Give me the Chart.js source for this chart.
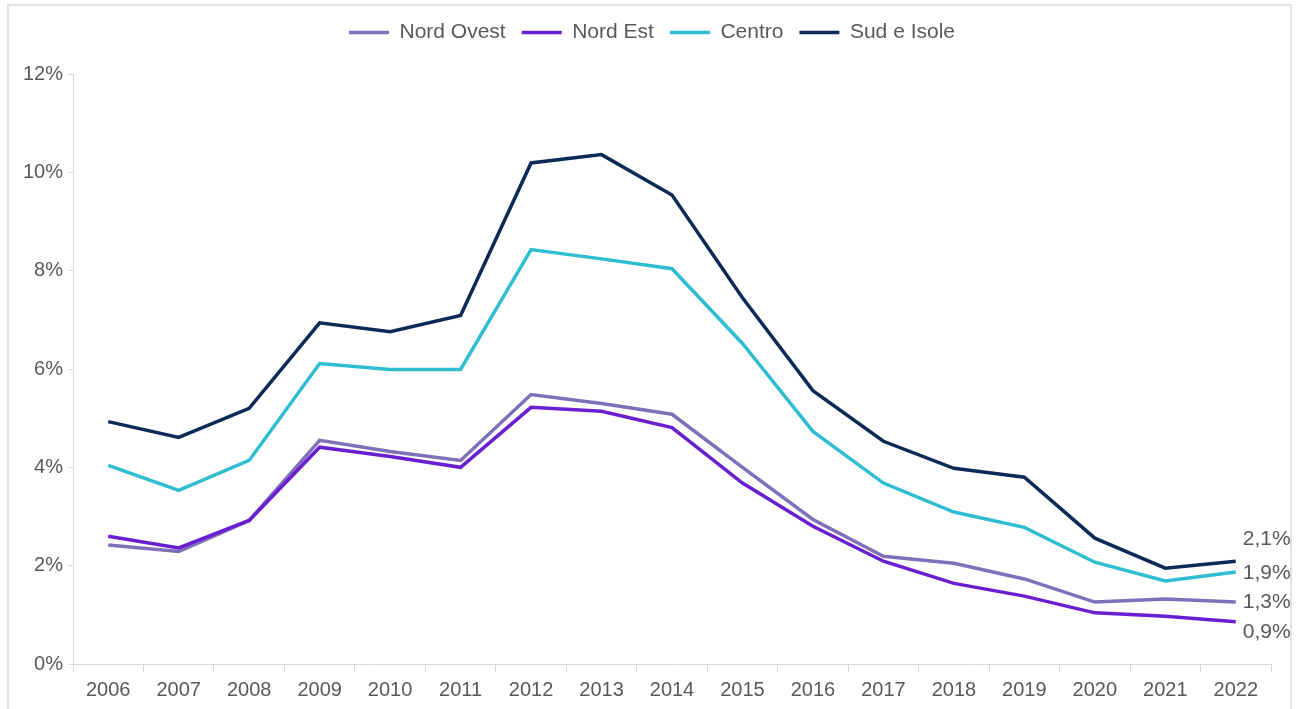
<!DOCTYPE html>
<html>
<head>
<meta charset="utf-8">
<script src="https://cdn.jsdelivr.net/npm/chart.js@4"></script>
<style>
  html, body { margin: 0; padding: 0; background: #fff; }
  #wrap { position: relative; width: 1304px; height: 709px; }
</style>
</head>
<body>
<div id="wrap"><canvas id="chart" width="1304" height="709"></canvas></div>
<script>
const years = ["2006", "2007", "2008", "2009", "2010", "2011", "2012", "2013", "2014",
  "2015", "2016", "2017", "2018", "2019", "2020", "2021", "2022"];

const nordOvest = [2.42, 2.29, 2.92, 4.55, 4.32, 4.14, 5.48, 5.30, 5.08, 4.00, 2.94, 2.19, 2.05, 1.73, 1.26, 1.32, 1.26];
const nordEst   = [2.60, 2.36, 2.92, 4.41, 4.22, 4.00, 5.22, 5.14, 4.81, 3.68, 2.80, 2.09, 1.64, 1.38, 1.04, 0.97, 0.86];
const centro    = [4.04, 3.53, 4.14, 6.11, 5.99, 5.99, 8.43, 8.24, 8.04, 6.52, 4.73, 3.68, 3.09, 2.78, 2.07, 1.69, 1.87];
const sudIsole  = [4.93, 4.61, 5.20, 6.94, 6.76, 7.09, 10.19, 10.36, 9.54, 7.45, 5.56, 4.53, 3.98, 3.80, 2.56, 1.95, 2.09];

const yTicks = [0, 2, 4, 6, 8, 10, 12];

const textColor = "#595959";
const axisColor = "#d9d9d9";
const family = "'Liberation Sans', Arial, sans-serif";
const tickFont = { family: family, size: 20 };
const legendFont = { family: family, size: 21 };

// nudge for the end-of-line labels so they don't collide
const endLabelShift = [0, 10, 1, -22];

function pct(v) {
  return v.toFixed(1).replace(".", ",") + "%";
}

const endLabels = {
  id: "endLabels",
  afterDatasetsDraw(chart) {
    const ctx = chart.ctx;
    ctx.save();
    ctx.font = legendFont.size + "px " + family;
    ctx.fillStyle = textColor;
    ctx.textAlign = "left";
    ctx.textBaseline = "middle";
    chart.data.datasets.forEach((ds, i) => {
      const meta = chart.getDatasetMeta(i);
      const last = meta.data[meta.data.length - 1];
      ctx.fillText(pct(ds.data[ds.data.length - 1]), last.x + 7, last.y + endLabelShift[i]);
    });
    ctx.restore();
  }
};

const frame = {
  id: "frame",
  beforeDraw(chart) {
    const ctx = chart.ctx;
    ctx.save();
    ctx.strokeStyle = "#e2e2e2";
    ctx.lineWidth = 2;
    ctx.strokeRect(8, 5, 1283, 720);
    ctx.restore();
  }
};

function line(label, data, color, order) {
  return {
    label: label,
    data: data,
    borderColor: color,
    backgroundColor: color,
    borderWidth: 3.5,
    pointRadius: 0,
    pointHoverRadius: 0,
    tension: 0,
    order: order
  };
}

// invisible axis used only to reserve space
function spacer(position, size) {
  return {
    type: position === "top" ? "category" : "linear",
    position: position,
    display: true,
    grid: { display: false, drawTicks: false },
    border: { display: false },
    ticks: { display: false },
    afterFit(s) {
      if (position === "top") s.height = size; else s.width = size;
    }
  };
}

new Chart(document.getElementById("chart"), {
  type: "line",
  data: {
    labels: years,
    datasets: [
      line("Nord Ovest", nordOvest, "#8070b9", 4),
      line("Nord Est", nordEst, "#6a1ed2", 3),
      line("Centro", centro, "#2ebdd1", 2),
      line("Sud e Isole", sudIsole, "#0b2b56", 1)
    ]
  },
  options: {
    responsive: false,
    animation: false,
    layout: { padding: { top: 6, left: 0, right: 0, bottom: 0 } },
    plugins: {
      legend: {
        position: "top",
        labels: {
          usePointStyle: true,
          pointStyle: "line",
          pointStyleWidth: 40,
          padding: 16,
          color: textColor,
          font: legendFont,
          sort: (a, b) => a.datasetIndex - b.datasetIndex
        }
      },
      tooltip: { enabled: false }
    },
    scales: {
      x: {
        offset: true,
        grid: {
          offset: true,
          drawOnChartArea: false,
          drawTicks: true,
          tickLength: 8,
          color: axisColor
        },
        border: { color: axisColor },
        ticks: { color: textColor, font: tickFont, padding: 6, maxRotation: 0, autoSkip: false },
        afterFit(s) { s.height = 45; }
      },
      xTop: spacer("top", 21),
      yRight: spacer("right", 33),
      y: {
        min: 0,
        max: 12,
        afterBuildTicks(s) { s.ticks = yTicks.map(v => ({ value: v })); },
        grid: {
          drawOnChartArea: false,
          drawTicks: true,
          tickLength: 5,
          color: axisColor
        },
        border: { color: axisColor },
        ticks: {
          color: textColor,
          font: tickFont,
          padding: 5,
          callback: v => v + "%"
        },
        afterFit(s) { s.width = 73; }
      }
    }
  },
  plugins: [endLabels, frame]
});
</script>
</body>
</html>
